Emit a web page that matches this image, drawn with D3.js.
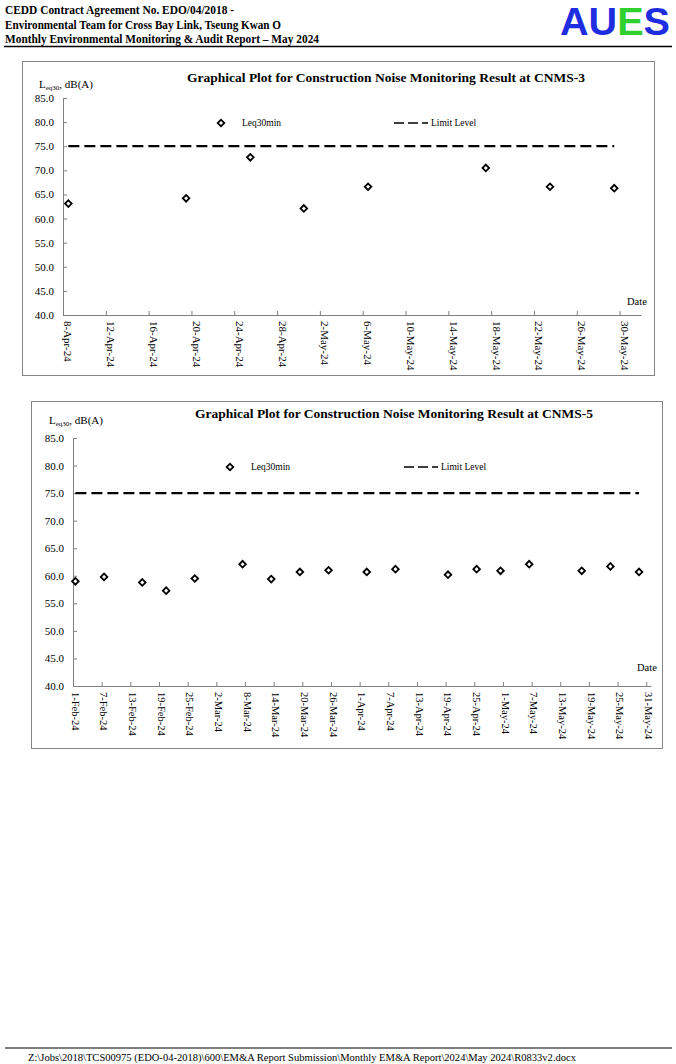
<!DOCTYPE html>
<html>
<head>
<meta charset="utf-8">
<script src="https://cdn.jsdelivr.net/npm/d3@7"></script>
<style>
  body { margin: 0; background: #fff; }
  svg text { font-family: "Liberation Serif", "Times New Roman", serif; }
</style>
</head>
<body>
<div id="page"></div>
<script>
const width = 676,
  height = 1064;

/* DATA */
// CNMS-3
const datesCNMS3 = ["2024-04-08", "2024-04-19", "2024-04-25", "2024-04-30",
  "2024-05-06", "2024-05-17", "2024-05-23", "2024-05-29"];
const leqCNMS3 = [63.1, 64.2, 72.7, 62.1, 66.6, 70.5, 66.6, 66.3];

// CNMS-5
const datesCNMS5 = ["2024-02-01", "2024-02-07", "2024-02-15", "2024-02-20",
  "2024-02-26", "2024-03-07", "2024-03-13", "2024-03-19", "2024-03-25",
  "2024-04-02", "2024-04-08", "2024-04-19", "2024-04-25", "2024-04-30",
  "2024-05-06", "2024-05-17", "2024-05-23", "2024-05-29"];
const leqCNMS5 = [59.0, 59.8, 58.8, 57.3, 59.5, 62.1, 59.4, 60.7, 61.0,
  60.7, 61.2, 60.2, 61.2, 60.9, 62.1, 60.9, 61.7, 60.7];

const limitLevel = 75;
const yTicks = [40, 45, 50, 55, 60, 65, 70, 75, 80, 85];

const headerLines = [
  "CEDD Contract Agreement No. EDO/04/2018 -",
  "Environmental Team for Cross Bay Link, Tseung Kwan O",
  "Monthly Environmental Monitoring & Audit Report \u2013 May 2024"
];
const footerText = "Z:\\Jobs\\2018\\TCS00975 (EDO-04-2018)\\600\\EM&A Report Submission\\Monthly EM&A Report\\2024\\May 2024\\R0833v2.docx";

const parseDate = d3.utcParse("%Y-%m-%d");
const fmtDate = d3.utcFormat("%-d-%b-%y");
const halfDay = 12 * 3600 * 1000;

const svg = d3.select("#page")
  .append("svg")
  .attr("width", width)
  .attr("height", height);

/* HEADER */
const headerWidths = [229, 276, 314];
svg.selectAll(".header-line")
  .data(headerLines)
  .join("text")
  .attr("class", "header-line")
  .attr("x", 5)
  .attr("y", (d, i) => 14 + i * 14.5)
  .attr("font-size", 13.5)
  .attr("font-weight", "bold")
  .attr("textLength", (d, i) => headerWidths[i])
  .attr("lengthAdjust", "spacingAndGlyphs")
  .text(d => d);

const logo = svg.append("text")
  .attr("x", 560)
  .attr("y", 35)
  .attr("font-size", 38)
  .attr("font-weight", "bold")
  .style("font-family", "'Liberation Sans', Arial, sans-serif")
  .attr("textLength", 110)
  .attr("lengthAdjust", "spacingAndGlyphs");
logo.append("tspan").attr("fill", "#1f2de0").text("AU");
logo.append("tspan").attr("fill", "#2ed12e").text("E");
logo.append("tspan").attr("fill", "#1f2de0").text("S");

svg.append("line")
  .attr("x1", 4).attr("x2", 672)
  .attr("y1", 46.5).attr("y2", 46.5)
  .attr("stroke", "#000")
  .attr("stroke-width", 1.5);

/* FOOTER */
svg.append("line")
  .attr("x1", 5).attr("x2", 672)
  .attr("y1", 1048).attr("y2", 1048)
  .attr("stroke", "#000")
  .attr("stroke-width", 1);
svg.append("text")
  .attr("x", 28)
  .attr("y", 1061)
  .attr("font-size", 10)
  .attr("textLength", 548)
  .attr("lengthAdjust", "spacingAndGlyphs")
  .text(footerText);

/* CHARTS */
drawChart({
  frame: { x: 22.5, y: 61.5, w: 632, h: 314 },
  x0: 63, x1: 641, yTop: 98, yBottom: 315,
  domain: ["2024-04-08", "2024-06-01"],
  tickStep: 4, tickEnd: "2024-05-30",
  dates: datesCNMS3, values: leqCNMS3,
  title: "Graphical Plot for Construction Noise Monitoring Result at CNMS-3",
  titleX: 386, titleY: 82,
  yLabelX: 39, yLabelY: 88,
  legendY: 123, legendMarkX: 221, legendLineX: 394,
  dateX: 627, dateY: 305,
  labelSize: 11
});

drawChart({
  frame: { x: 31.5, y: 401.5, w: 631, h: 347 },
  x0: 73, x1: 651, yTop: 438, yBottom: 686,
  domain: ["2024-02-01", "2024-06-01"],
  tickStep: 6, tickEnd: "2024-05-31",
  dates: datesCNMS5, values: leqCNMS5,
  title: "Graphical Plot for Construction Noise Monitoring Result at CNMS-5",
  titleX: 394, titleY: 418,
  yLabelX: 49, yLabelY: 424,
  legendY: 467, legendMarkX: 230, legendLineX: 404,
  dateX: 637, dateY: 671,
  labelSize: 10.5
});

function drawChart(cfg) {
  const g = svg.append("g");
  const data = cfg.dates.map((d, i) => ({ date: parseDate(d), value: cfg.values[i] }));

  g.append("rect")
    .attr("x", cfg.frame.x).attr("y", cfg.frame.y)
    .attr("width", cfg.frame.w).attr("height", cfg.frame.h)
    .attr("fill", "none")
    .attr("stroke", "#858585")
    .attr("stroke-width", 1);

  const xScale = d3.scaleUtc()
    .domain(cfg.domain.map(parseDate))
    .range([cfg.x0, cfg.x1]);

  const yScale = d3.scaleLinear()
    .domain([40, 85])
    .range([cfg.yBottom, cfg.yTop]);

  const tickDates = d3.utcDay.range(parseDate(cfg.domain[0]),
    d3.utcDay.offset(parseDate(cfg.tickEnd), 1), cfg.tickStep);

  // x axis (ticks point up, labels centred in the day)
  const xAxis = d3.axisBottom(xScale)
    .tickValues(tickDates)
    .tickSizeInner(-4)
    .tickSizeOuter(0)
    .tickFormat("");
  const gx = g.append("g")
    .attr("transform", `translate(0,${cfg.yBottom})`)
    .call(xAxis);
  gx.selectAll("path, line").attr("stroke", "#808080");

  g.selectAll(".xlabel")
    .data(tickDates)
    .join("text")
    .attr("class", "xlabel")
    .attr("transform", d => `translate(${xScale(new Date(+d + halfDay))},${cfg.yBottom + 6}) rotate(90)`)
    .attr("dy", "0.35em")
    .attr("font-size", cfg.labelSize)
    .text(d => fmtDate(d));

  // y axis (ticks point inward)
  const yAxis = d3.axisLeft(yScale)
    .tickValues(yTicks)
    .tickSizeInner(-4)
    .tickSizeOuter(0)
    .tickPadding(9)
    .tickFormat(d3.format(".1f"));
  const gy = g.append("g")
    .attr("transform", `translate(${cfg.x0},0)`)
    .call(yAxis);
  gy.select(".domain").attr("stroke", "#808080");
  gy.selectAll("line").attr("stroke", "#808080");
  gy.selectAll("text")
    .attr("font-size", 11)
    .attr("fill", "#000")
    .style("font-family", "'Liberation Serif', 'Times New Roman', serif");

  // limit level
  const limitLine = d3.line()
    .x(d => xScale(new Date(+d.date + halfDay)))
    .y(() => yScale(limitLevel));
  g.append("path")
    .datum(data)
    .attr("d", limitLine)
    .attr("fill", "none")
    .attr("stroke", "#000")
    .attr("stroke-width", 2.2)
    .attr("stroke-dasharray", "11,5");

  // Leq30min points
  const diamond = d3.symbol().type(d3.symbolSquare).size(22);
  g.selectAll(".dot")
    .data(data)
    .join("path")
    .attr("class", "dot")
    .attr("d", diamond)
    .attr("transform", d => `translate(${xScale(new Date(+d.date + halfDay))},${yScale(d.value)}) rotate(45)`)
    .attr("fill", "#fff")
    .attr("stroke", "#000")
    .attr("stroke-width", 1.8);

  // title
  g.append("text")
    .attr("x", cfg.titleX)
    .attr("y", cfg.titleY)
    .attr("text-anchor", "middle")
    .attr("font-size", 13.5)
    .attr("font-weight", "bold")
    .text(cfg.title);

  // y label
  const yl = g.append("text")
    .attr("x", cfg.yLabelX)
    .attr("y", cfg.yLabelY)
    .attr("font-size", 11);
  yl.append("tspan").text("L");
  yl.append("tspan").attr("font-size", 7).attr("dy", 2).text("eq30");
  yl.append("tspan").attr("dy", -2).text(", dB(A)");

  // legend
  g.append("path")
    .attr("d", diamond)
    .attr("transform", `translate(${cfg.legendMarkX},${cfg.legendY}) rotate(45)`)
    .attr("fill", "#fff")
    .attr("stroke", "#000")
    .attr("stroke-width", 1.8);
  g.append("text")
    .attr("x", cfg.legendMarkX + 21)
    .attr("y", cfg.legendY + 3)
    .attr("font-size", 9.5)
    .text("Leq30min");
  g.append("line")
    .attr("x1", cfg.legendLineX).attr("x2", cfg.legendLineX + 34)
    .attr("y1", cfg.legendY).attr("y2", cfg.legendY)
    .attr("stroke", "#000")
    .attr("stroke-width", 1.6)
    .attr("stroke-dasharray", "10,4");
  g.append("text")
    .attr("x", cfg.legendLineX + 37)
    .attr("y", cfg.legendY + 3)
    .attr("font-size", 9.5)
    .text("Limit Level");

  g.append("text")
    .attr("x", cfg.dateX)
    .attr("y", cfg.dateY)
    .attr("font-size", 10.5)
    .text("Date");
}
</script>
</body>
</html>
